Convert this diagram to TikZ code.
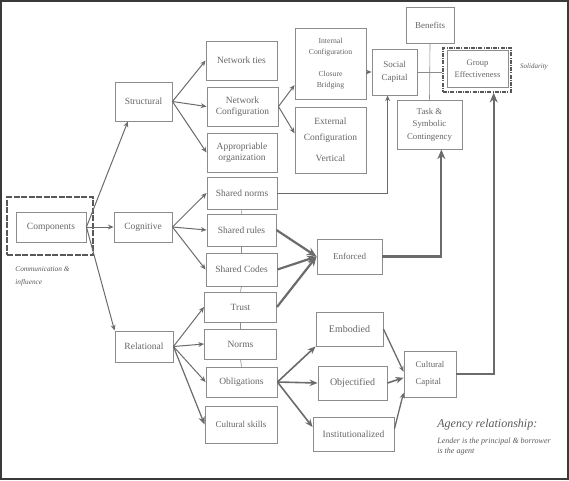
\documentclass[tikz,border=0pt]{standalone}
\usepackage{fontspec}
\setmainfont{Liberation Serif}
\usetikzlibrary{arrows.meta, calc, positioning}
\definecolor{scFrame}{HTML}{3A3A3A}
\definecolor{scLine}{HTML}{6B6B6B}
\definecolor{scBox}{HTML}{8C8C8C}
\definecolor{scText}{HTML}{666666}
\definecolor{scNote}{HTML}{595959}
\tikzset{
  % grey boxes and arrows, sizes given in pixels of the sheet
  every picture/.append style = {line width=0.8pt, >={Stealth[length=2mm]}},
  box/.style      = {draw=scBox, line width=0.9pt, fill=white, text=scText,
                     align=center, inner sep=1pt, font=\fontsize{9.5}{11}\selectfont},
  arr/.style      = {-{Stealth[length=2mm, width=1.7mm]}, scLine, line width=1pt},
  midarr/.style   = {-{Stealth[length=2.8mm, width=2.3mm]}, scLine, line width=1.6pt},
  heavyarr/.style = {-{Stealth[length=3.4mm, width=2.8mm]}, scLine, line width=2.2pt},
  link/.style     = {scBox, line width=0.6pt},
  note/.style     = {text=scNote, align=left, inner sep=0pt},
}
\begin{document}
\begin{tikzpicture}[x=1pt, y=-1pt,
    commframe/.style={draw=scFrame!85, line width=1.8pt, dash pattern=on 6pt off 1.5pt},
    geframe/.style={draw=scFrame!85, line width=1.5pt,
                    dash pattern=on 4pt off 1.2pt on 1pt off 1.2pt}]
  \useasboundingbox (0,0) rectangle (569,480);
  % sheet frame
  \draw[scFrame, line width=2pt] (1,1) rectangle (568,479);
  % components
  \node[commframe, minimum width=86pt, minimum height=58pt] (commbox) at (50,226) {};
  \node[box, minimum width=70pt, minimum height=30pt] (comp) at (51,227) {Components};
  \node[note, anchor=north west, font=\itshape\fontsize{7.3}{13}\selectfont] (commnote)
    at (15,266) {Communication \&\\influence};
  % dimensions
  \node[box, minimum width=57pt, minimum height=39pt] (struct) at (143.5,101.5) {Structural};
  \node[box, minimum width=58pt, minimum height=30pt] (cogn) at (143,227) {Cognitive};
  \node[box, minimum width=58pt, minimum height=31pt] (relat) at (144,346.5) {Relational};
  % middle column
  \node[box, minimum width=71pt, minimum height=39pt] (ties) at (241.5,60.5) {Network ties};
  \node[box, minimum width=71pt, minimum height=39pt] (netconf) at (242.5,106.5) {Network\\Configuration};
  \node[box, minimum width=70pt, minimum height=39pt] (approp) at (242,152.5) {Appropriable\\organization};
  \node[box, minimum width=70pt, minimum height=32pt] (snorms) at (242,193) {Shared norms};
  \node[box, minimum width=69pt, minimum height=32pt] (srules) at (241.5,230) {Shared rules};
  \node[box, minimum width=71pt, minimum height=33pt] (scodes) at (241.5,269.5) {Shared Codes};
  \node[box, minimum width=72pt, minimum height=30pt] (trust) at (240.5,307) {Trust};
  \node[box, minimum width=72pt, minimum height=30pt] (norms) at (240.5,344) {Norms};
  \node[box, minimum width=71pt, minimum height=30pt] (oblig) at (241.5,382) {Obligations};
  \node[box, minimum width=72pt, minimum height=37pt, font=\fontsize{9}{11}\selectfont]
    (cskills) at (241,424.5) {Cultural skills};
  % configurations
  \node[box, minimum width=71pt, minimum height=71pt, font=\fontsize{7.7}{11.5}\selectfont]
    (intconf) at (330.5,63.5) {Internal\\Configuration\\[10pt]Closure\\Bridging};
  \node[box, minimum width=71pt, minimum height=66pt, font=\fontsize{9.5}{15.5}\selectfont]
    (extconf) at (330.5,140) {External\\Configuration\\[6pt]Vertical};
  % capitals and outcomes
  \node[box, minimum width=45pt, minimum height=46pt, font=\fontsize{9}{13}\selectfont]
    (socap) at (394.5,72) {Social\\Capital};
  \node[box, minimum width=48pt, minimum height=36pt, font=\fontsize{9}{11}\selectfont]
    (benefits) at (430,25) {Benefits};
  \node[box, minimum width=65pt, minimum height=49pt, font=\fontsize{8.8}{12.5}\selectfont]
    (task) at (429.5,124.5) {Task \&\\Symbolic\\Contingency};
  \node[geframe, minimum width=68pt, minimum height=44pt] (geframe) at (477,70) {};
  \node[box, minimum width=61pt, minimum height=37pt, font=\fontsize{8.5}{12}\selectfont]
    (groupeff) at (477.5,68.5) {Group\\Effectiveness};
  \node[note, font=\itshape\fontsize{7}{8}\selectfont] (solid) at (534,67) {Solidarity};
  \node[box, minimum width=65pt, minimum height=35pt, font=\fontsize{9}{11}\selectfont]
    (enforced) at (349.5,256.5) {Enforced};
  \node[box, minimum width=67pt, minimum height=34pt, font=\fontsize{10}{11}\selectfont]
    (embodied) at (349.5,329) {Embodied};
  \node[box, minimum width=69pt, minimum height=34pt, font=\fontsize{10}{11}\selectfont]
    (objectified) at (352.5,383) {Objectified};
  \node[box, minimum width=81pt, minimum height=34pt] (instit) at (353.5,434) {Institutionalized};
  \node[box, minimum width=52pt, minimum height=46pt, align=left, font=\fontsize{8.8}{17}\selectfont]
    (culcap) at (430,374) {Cultural\\Capital};
  % agency note
  \node[note, anchor=west, font=\itshape\fontsize{12}{14}\selectfont] (agency)
    at (437,425) {Agency relationship:};
  \node[note, anchor=north west, font=\itshape\fontsize{8}{10}\selectfont] (agencytxt)
    at (437,438) {Lender is the principal \& borrower\\is the agent};
  % thin links
  \draw[link] (benefits.south) -- (task.north);
  \draw[link] (socap.east) -- (socap.east -| geframe.west);
  \draw[link] (snorms.south) -- (srules.north);
  \draw[link] (srules.south) -- (scodes.north);
  \draw[link] (scodes.south) -- (trust.north);
  \draw[link] (trust.south) -- (norms.north);
  \draw[link] (norms.south) -- (oblig.north);
  % components to dimensions
  \draw[arr] (comp.east) -- ($(struct.south west)!0.23!(struct.south east)$);
  \draw[arr] (comp.east) -- (cogn.west);
  \draw[arr] (comp.east) -- (relat.north west);
  % structural
  \draw[arr] (struct.east) -- (ties.west);
  \draw[arr] (struct.east) -- (netconf.west);
  \draw[arr] (struct.east) -- (approp.west);
  \draw[arr] (netconf.east) -- ($(intconf.south west)!0.2!(intconf.north west)$);
  \draw[arr] (netconf.east) -- ($(extconf.north west)!0.4!(extconf.south west)$);
  \draw[arr] (intconf.east |- socap.west) -- (socap.west);
  % cognitive
  \draw[arr] (cogn.east) -- (snorms.west);
  \draw[arr] (cogn.east) -- (srules.west);
  \draw[arr] (cogn.east) -- (scodes.west);
  \draw[arr, line width=0.8pt] (snorms.east) -| ($(socap.south west)!0.35!(socap.south east)$);
  \draw[heavyarr] (srules.east) -- (enforced.west);
  \draw[heavyarr] (scodes.east) -- (enforced.west);
  \draw[heavyarr] (trust.east) -- (enforced.west);
  \draw[heavyarr] (enforced.east) -| ($(task.south west)!0.68!(task.south east)$);
  % relational
  \draw[arr] (relat.east) -- (trust.west);
  \draw[arr] (relat.east) -- (norms.west);
  \draw[arr] (relat.east) -- (oblig.west);
  \draw[midarr, line width=1.2pt] (relat.east) -- (cskills.west);
  \draw[midarr] (oblig.east) -- (embodied.south west);
  \draw[midarr] (oblig.east) -- (objectified.west);
  \draw[midarr] (oblig.east) -- ($(instit.north west)!0.3!(instit.south west)$);
  \draw[arr, line width=1.3pt] (embodied.east) -- ($(culcap.north west)!0.45!(culcap.south west)$);
  \draw[midarr] (objectified.east) -- ($(culcap.north west)!0.58!(culcap.south west)$);
  \draw[arr, line width=1.3pt] ($(instit.north east)!0.35!(instit.south east)$)
    -- ($(culcap.north west)!0.9!(culcap.south west)$);
  \draw[heavyarr, line width=1.8pt] (culcap.east) -| ($(geframe.south west)!0.74!(geframe.south east)$);
\end{tikzpicture}
\end{document}
